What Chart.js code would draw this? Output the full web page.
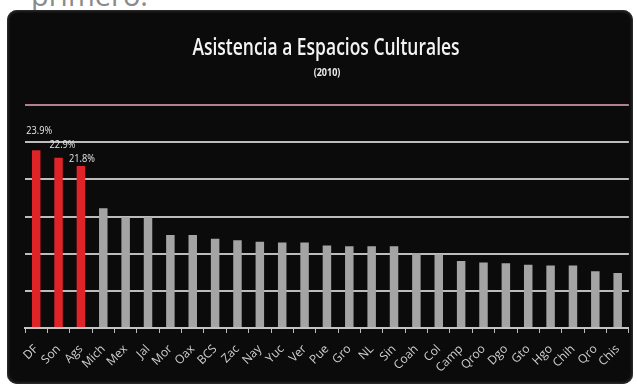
<!DOCTYPE html>
<html>
<head>
<meta charset="utf-8">
<script src="https://cdn.jsdelivr.net/npm/chart.js@4.4.1/dist/chart.umd.min.js"></script>
<style>
  html, body { margin: 0; padding: 0; background: #ffffff; width: 637px; height: 387px; overflow: hidden; }
  #top { position: absolute; left: 31px; top: -20px; font: 29px/29px "Open Sans", sans-serif; color: #8a8a8a; }
  #panel { position: absolute; left: 7px; top: 10px; width: 626px; height: 374px; background: #0b0b0b;
           border-radius: 10px; box-shadow: inset 0 0 3px 1px #3a3a3a; }
  #wrap { position: absolute; left: 0; top: 0; width: 637px; height: 387px; }
</style>
</head>
<body>
<div id="top">primero.</div>
<div id="panel"></div>
<div id="wrap"><canvas id="c" width="637" height="387"></canvas></div>
<script>
const categories = ["DF","Son","Ags","Mich","Mex","Jal","Mor","Oax","BCS","Zac","Nay","Yuc","Ver","Pue","Gro","NL","Sin","Coah","Col","Camp","Qroo","Dgo","Gto","Hgo","Chih","Qro","Chis"];
const values = [23.9,22.9,21.8,16.1,14.9,14.9,12.5,12.5,12.0,11.8,11.6,11.5,11.5,11.1,11.0,11.0,11.0,10.1,9.9,9.0,8.8,8.7,8.5,8.4,8.4,7.65,7.4];
const highlighted = ["DF","Son","Ags"];
const yTicks = [0,5,10,15,20,25,30];
const titleText = "Asistencia a Espacios Culturales";
const subtitleText = "(2010)";

const RED = "#de2329", GRAY = "#a4a4a4";

// draws text horizontally condensed (narrow typeface look)
function narrowText(ctx, text, x, y, font, color, sx) {
  ctx.save();
  ctx.font = font;
  ctx.fillStyle = color;
  ctx.textAlign = "center";
  ctx.textBaseline = "alphabetic";
  ctx.translate(x, y);
  ctx.scale(sx, 1);
  ctx.fillText(text, 0, 0);
  ctx.restore();
}

const headings = {
  id: "headings",
  afterDraw(chart) {
    const ctx = chart.ctx;
    narrowText(ctx, titleText, 326, 55, "600 23px 'Open Sans', sans-serif", "#f4f4f4", 0.76);
    narrowText(ctx, subtitleText, 327, 76, "bold 11px 'Open Sans', sans-serif", "#ececec", 0.82);
  }
};

const valueLabels = {
  id: "valueLabels",
  afterDatasetsDraw(chart) {
    const ctx = chart.ctx;
    const meta = chart.getDatasetMeta(0);
    const lift = [16, 10, 4];
    const shift = [3, 4, 1];
    categories.forEach((c, i) => {
      const k = highlighted.indexOf(c);
      if (k < 0) return;
      const el = meta.data[i];
      narrowText(ctx, values[i].toFixed(1) + "%", el.x + shift[k], el.y - lift[k],
                 "10.5px 'Open Sans', sans-serif", "#e6e6e6", 0.88);
    });
  }
};

new Chart(document.getElementById("c"), {
  type: "bar",
  data: {
    labels: categories,
    datasets: [{
      data: values,
      backgroundColor: categories.map(c => highlighted.includes(c) ? RED : GRAY),
      borderWidth: 0,
      barPercentage: 0.38,
      categoryPercentage: 1
    }]
  },
  options: {
    responsive: false,
    animation: false,
    devicePixelRatio: 1,
    layout: { padding: { left: 25, right: 7, top: 105, bottom: 9 } },
    plugins: {
      legend: { display: false },
      tooltip: { enabled: false },
      title: { display: false }
    },
    scales: {
      x: {
        offset: true,
        grid: { display: true, drawOnChartArea: false, drawTicks: true, tickLength: 5, color: "#bdbdbd", offset: true },
        border: { display: true, color: "#c4c4c4", width: 2 },
        ticks: {
          color: "#cfcfcf", maxRotation: 45, minRotation: 45, autoSkip: false, padding: 9,
          font: { family: "'Open Sans', sans-serif", size: 12 }
        },
        afterFit(s) { s.height = 50; }
      },
      y: {
        min: 0, max: 30,
        afterBuildTicks(s) { s.ticks = yTicks.map(v => ({ value: v })); },
        ticks: { display: false },
        border: { display: false },
        grid: {
          drawTicks: false,
          lineWidth: 2,
          color: c => c.tick && c.tick.value === 30 ? "#b48090" : "#bcbcbc"
        },
        afterFit(s) { s.width = 0; }
      }
    }
  },
  plugins: [valueLabels, headings]
});
</script>
</body>
</html>
